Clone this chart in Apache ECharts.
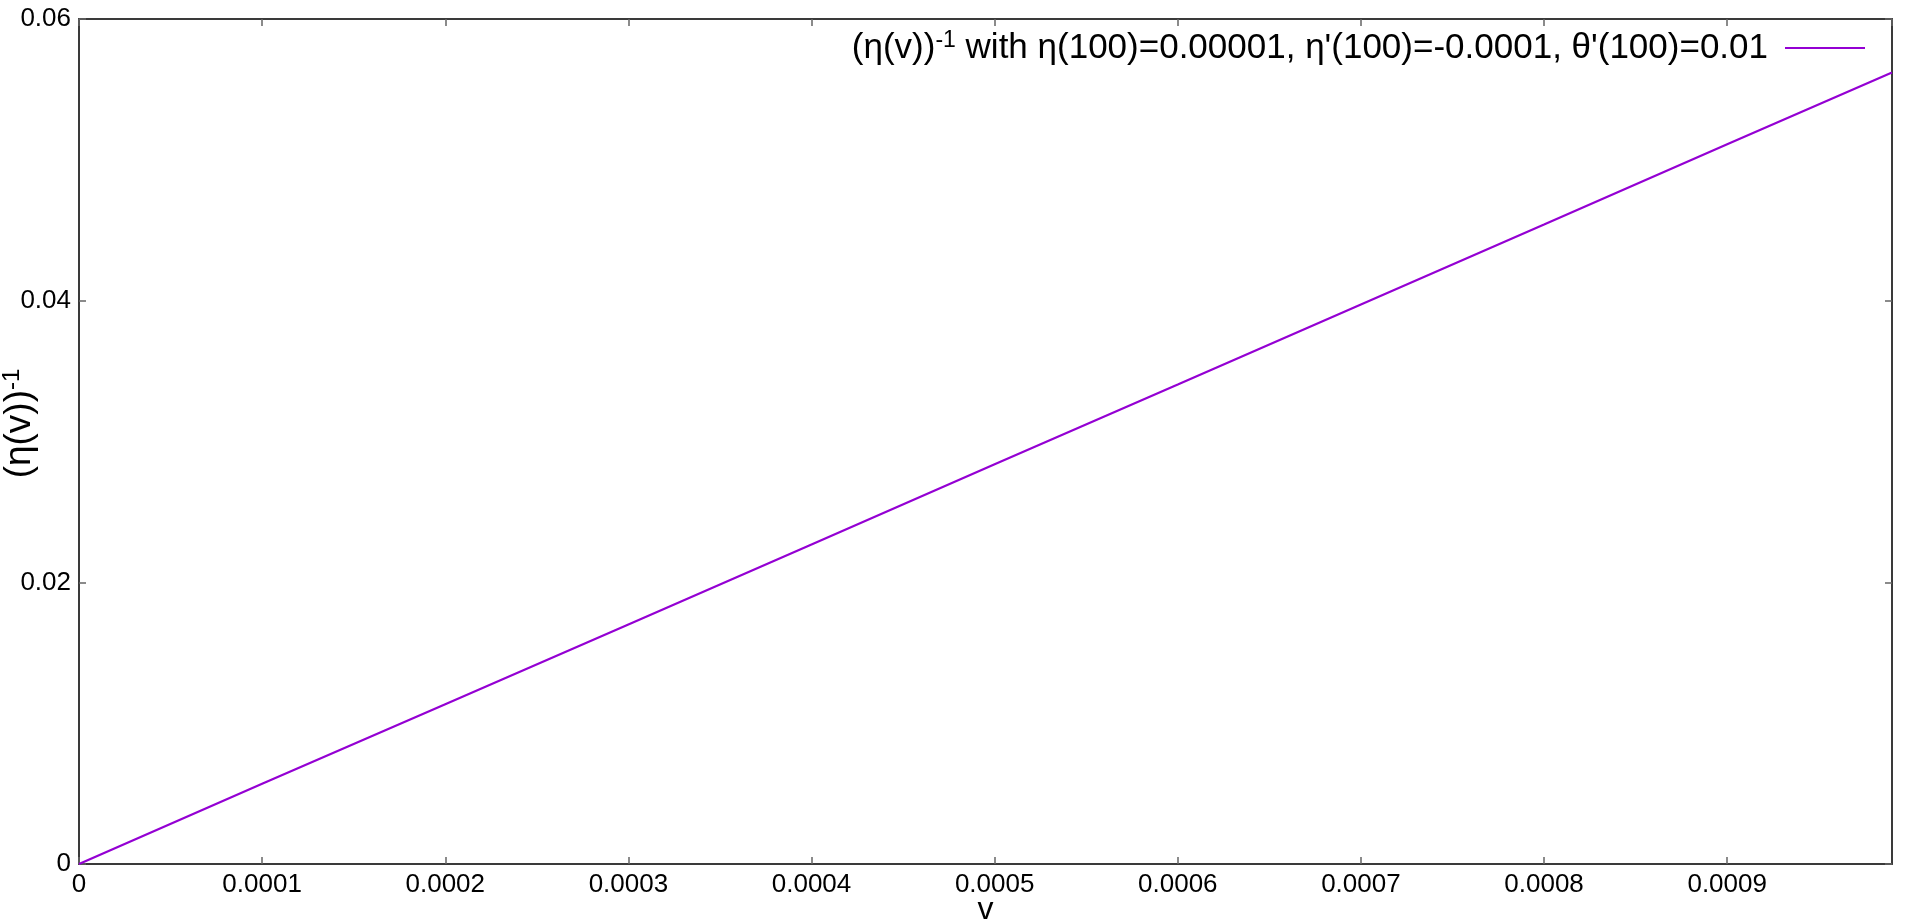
<!DOCTYPE html>
<html>
<head>
<meta charset="utf-8">
<script src="https://cdn.jsdelivr.net/npm/echarts@6/dist/echarts.min.js"></script>
<style>
html,body{margin:0;padding:0;background:#fff;}
#chart{width:1916px;height:922px;}
</style>
</head>
<body>
<div id="chart"></div>
<script>
// Data
const vValues = [0, 0.0001, 0.0002, 0.0003, 0.0004, 0.0005, 0.0006, 0.0007, 0.0008, 0.0009, 0.00099];
const etaInvValues = [0, 0.00570, 0.01135, 0.01700, 0.02268, 0.02838, 0.03405, 0.03973, 0.04540, 0.05110, 0.05620];
const xTickLabels = ['0', '0.0001', '0.0002', '0.0003', '0.0004', '0.0005', '0.0006', '0.0007', '0.0008', '0.0009'];
const yTickLabels = ['0', '0.02', '0.04', '0.06'];
const seriesName = 'eta';
const legendText = '(η(v)){sup|-1} with η(100)=0.00001, η\'(100)=-0.0001, θ\'(100)=0.01';

const xStep = 0.0001, yStep = 0.02;
const FONT = '"Liberation Sans", Arial, sans-serif';
const frameColor = '#3a3a3a';
const lineColor = '#9400d3';

const chart = echarts.init(document.getElementById('chart'), null, {renderer: 'canvas'});

const baseAxis = {
  axisLine: {show: true, onZero: false, lineStyle: {color: frameColor, width: 2}},
  axisTick: {show: true, inside: true, length: 7, lineStyle: {color: '#666', width: 1.5}},
  splitLine: {show: false},
  nameMoveOverlap: false,
  axisLabel: {color: '#000', fontFamily: FONT, fontSize: 26}
};

const option = {
  animation: false,
  backgroundColor: '#fff',
  grid: {left: 79, right: 24, top: 19, bottom: 58, containLabel: false, outerBoundsMode: 'none'},
  legend: {
    show: true,
    right: 46,
    top: 24,
    align: 'right',
    icon: 'rect',
    itemWidth: 80,
    itemHeight: 2,
    data: [{name: seriesName}],
    formatter: () => legendText,
    textStyle: {
      color: '#000', fontFamily: FONT, fontSize: 35, padding: [0, 12, 0, 0],
      rich: {sup: {fontSize: 23, verticalAlign: 'top', fontFamily: FONT, color: '#000', padding: [0, 0, 15, 0]}}
    }
  },
  xAxis: [
    Object.assign({}, baseAxis, {
      type: 'value', position: 'bottom', min: 0, max: vValues[vValues.length - 1], interval: xStep,
      name: 'v', nameLocation: 'middle', nameGap: 30,
      nameTextStyle: {color: '#000', fontFamily: FONT, fontSize: 32},
      axisLabel: Object.assign({}, baseAxis.axisLabel, {
        margin: 8, showMaxLabel: false,
        formatter: v => { const i = Math.round(v / xStep); return xTickLabels[i] !== undefined ? xTickLabels[i] : ''; }
      })
    }),
    Object.assign({}, baseAxis, {
      type: 'value', position: 'top', min: 0, max: vValues[vValues.length - 1], interval: xStep,
      axisLabel: {show: false}
    })
  ],
  yAxis: [
    Object.assign({}, baseAxis, {
      type: 'value', position: 'left', min: 0, max: 0.06, interval: yStep,
      name: '(η(v)){sup|-1}', nameLocation: 'middle', nameGap: 40, nameRotate: 90,
      nameTextStyle: {color: '#000', fontFamily: FONT, fontSize: 37, padding: [0, 0, 0, 36],
        rich: {sup: {fontSize: 24, verticalAlign: 'top', fontFamily: FONT, color: '#000', padding: [0, 0, 15, 0]}}},
      axisLabel: Object.assign({}, baseAxis.axisLabel, {
        margin: 8,
        formatter: v => { const i = Math.round(v / yStep); return yTickLabels[i] !== undefined ? yTickLabels[i] : ''; }
      })
    }),
    Object.assign({}, baseAxis, {
      type: 'value', position: 'right', min: 0, max: 0.06, interval: yStep,
      axisLabel: {show: false}
    })
  ],
  series: [{
    name: seriesName,
    type: 'line',
    xAxisIndex: 0, yAxisIndex: 0,
    symbol: 'none',
    lineStyle: {color: lineColor, width: 2.2},
    itemStyle: {color: lineColor},
    data: vValues.map((v, i) => [v, etaInvValues[i]])
  }]
};
chart.setOption(option);
</script>
</body>
</html>
